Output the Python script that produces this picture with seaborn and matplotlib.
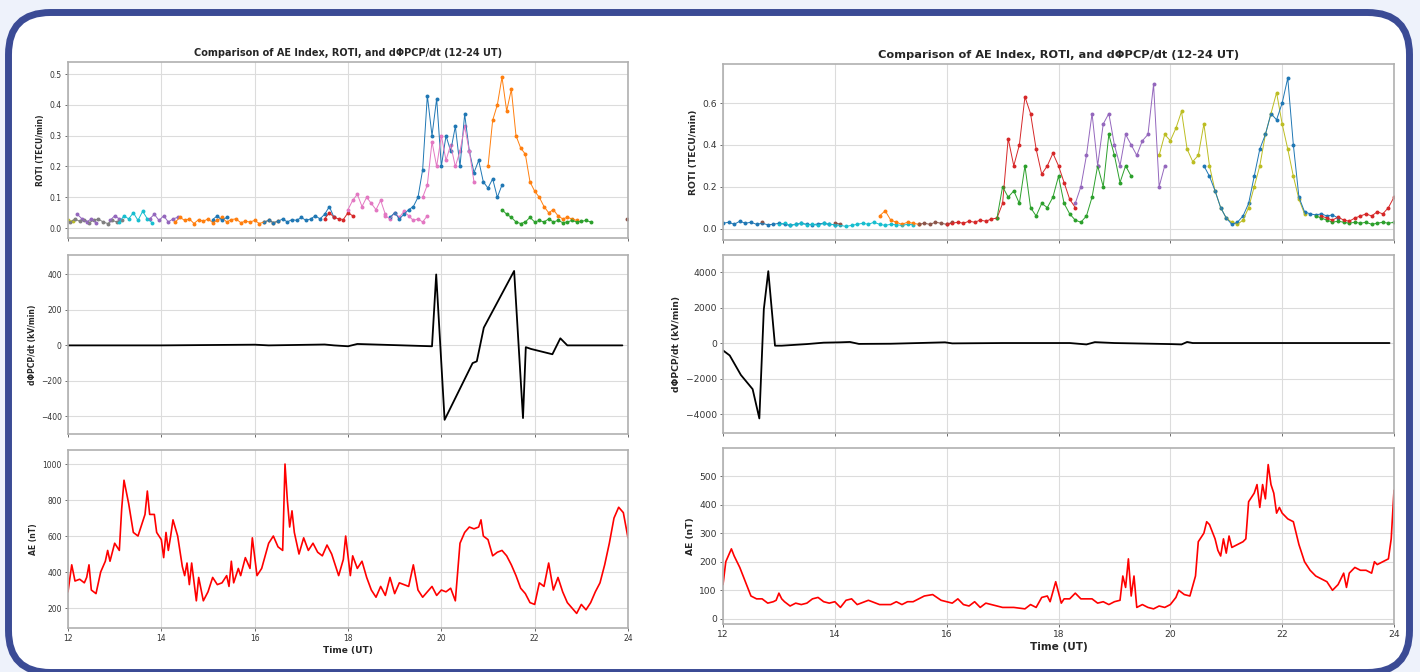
import numpy as np
import matplotlib
matplotlib.use("Agg")
import matplotlib.pyplot as plt
from matplotlib.patches import FancyBboxPatch
import seaborn as sns

TITLE = "Comparison of AE Index, ROTI, and d\u03a6PCP/dt (12-24 UT)"
XTICKS = [12, 14, 16, 18, 20, 22, 24]
STEP = 0.1  # sampling step of the ROTI series (hours)

# ---------------- left panel : ROTI (start time, values) ----------------
l_olive_t0, l_olive = 12.0, [0.026, 0.022]
l_gray_t0, l_gray = 12.05, [0.02, 0.03, 0.022, 0.028, 0.018, 0.025, 0.03, 0.02, 0.015, 0.025, 0.02, 0.028]
l_purple_a_t0, l_purple_a = 12.2, [0.045, 0.03, 0.02, 0.03, 0.018]
l_purple_b_t0, l_purple_b = 12.9, [0.025, 0.04, 0.03]
l_cyan_t0, l_cyan = 13.1, [0.02, 0.04, 0.03, 0.05, 0.025, 0.055, 0.03, 0.018]
l_purple_c_t0, l_purple_c = 13.75, [0.03, 0.045, 0.025, 0.04, 0.02, 0.03, 0.035]
l_orange_a_t0, l_orange_a = 14.3, [0.02, 0.035, 0.025, 0.03, 0.015, 0.028, 0.022, 0.03, 0.018, 0.025, 0.035, 0.02,
                                   0.028, 0.03, 0.018, 0.022, 0.02, 0.025, 0.015, 0.02, 0.025, 0.018, 0.022]
l_blue_a_t0, l_blue_a = 15.1, [0.028, 0.04, 0.025, 0.035]
l_blue_b_t0, l_blue_b = 16.2, [0.02, 0.025, 0.018, 0.022, 0.03, 0.02, 0.028, 0.025, 0.035, 0.025, 0.03, 0.04,
                               0.03, 0.045, 0.07, 0.035]
l_red_t0, l_red = 17.5, [0.03, 0.05, 0.035, 0.03, 0.028, 0.05, 0.04]
l_pink_a_t0, l_pink_a = 18.0, [0.06, 0.09, 0.11, 0.07, 0.1, 0.08, 0.06, 0.09, 0.045]
l_pink_b_t0, l_pink_b = 18.8, [0.04, 0.03, 0.05, 0.035, 0.055, 0.04, 0.025, 0.03, 0.02, 0.04]
l_blue_c_t0, l_blue_c = 18.9, [0.035, 0.05, 0.03, 0.045, 0.06, 0.07, 0.1, 0.19, 0.43, 0.3, 0.42, 0.2, 0.3, 0.25,
                               0.33, 0.2, 0.37, 0.25, 0.18, 0.22, 0.15, 0.13, 0.16, 0.1, 0.14]
l_pink_c_t0, l_pink_c = 19.6, [0.1, 0.14, 0.28, 0.2, 0.3, 0.22, 0.27, 0.2, 0.25, 0.33, 0.25, 0.15]
l_orange_b_t0, l_orange_b = 21.0, [0.2, 0.35, 0.4, 0.49, 0.38, 0.45, 0.3, 0.26, 0.24, 0.15, 0.12, 0.1, 0.07, 0.05,
                                   0.06, 0.04, 0.03, 0.035, 0.03, 0.025]
l_green_t0, l_green = 21.3, [0.06, 0.045, 0.035, 0.02, 0.015, 0.02, 0.035, 0.02, 0.025, 0.02, 0.03, 0.02, 0.025,
                             0.018, 0.02, 0.025, 0.02, 0.022, 0.025, 0.02]
l_brown_t0, l_brown = 23.98, [0.03]

# ---------------- right panel : ROTI ----------------
r_blue_a_t0, r_blue_a = 12.0, [0.025, 0.03, 0.02, 0.035, 0.025, 0.03, 0.02, 0.025, 0.018, 0.02, 0.025, 0.02,
                               0.015, 0.02, 0.025, 0.02, 0.018, 0.022, 0.025, 0.02, 0.018]
r_cyan_t0, r_cyan = 13.0, [0.02, 0.025, 0.015, 0.02, 0.025, 0.018, 0.02, 0.015, 0.025, 0.02, 0.018, 0.015, 0.01,
                           0.015, 0.02, 0.025, 0.02, 0.03, 0.02, 0.015, 0.02, 0.018, 0.015, 0.02, 0.018]
r_brown_a_t0, r_brown_a = 12.7, [0.03]
r_brown_b_t0, r_brown_b = 14.0, [0.028, 0.02]
r_brown_c_t0, r_brown_c = 15.5, [0.02, 0.025, 0.02, 0.03, 0.025, 0.02, 0.03]
r_orange_t0, r_orange = 14.8, [0.06, 0.085, 0.04, 0.03, 0.02, 0.03, 0.025, 0.02]
r_red_a_t0, r_red_a = 16.0, [0.02, 0.025, 0.03, 0.025, 0.035, 0.03, 0.04, 0.035, 0.045, 0.05, 0.12, 0.43, 0.3,
                             0.4, 0.63, 0.55, 0.38, 0.26, 0.3, 0.36, 0.3, 0.22, 0.14, 0.1]
r_green_a_t0, r_green_a = 16.9, [0.05, 0.2, 0.15, 0.18, 0.12, 0.3, 0.1, 0.06, 0.12, 0.1, 0.15, 0.25, 0.12, 0.07,
                                 0.04, 0.03, 0.06, 0.15, 0.3, 0.2, 0.45, 0.35, 0.22, 0.3, 0.25]
r_purple_t0, r_purple = 18.3, [0.12, 0.2, 0.35, 0.55, 0.3, 0.5, 0.55, 0.4, 0.3, 0.45, 0.4, 0.35, 0.42, 0.45,
                               0.69, 0.2, 0.3]
r_olive_t0, r_olive = 19.8, [0.35, 0.45, 0.42, 0.48, 0.56, 0.38, 0.32, 0.35, 0.5, 0.3, 0.18, 0.1, 0.05, 0.03,
                             0.02, 0.04, 0.1, 0.2, 0.3, 0.45, 0.55, 0.65, 0.5, 0.38, 0.25, 0.14, 0.07]
r_blue_b_t0, r_blue_b = 20.6, [0.3, 0.25, 0.18, 0.1, 0.05, 0.02, 0.03, 0.06, 0.12, 0.25, 0.38, 0.45, 0.55, 0.52,
                               0.6, 0.72, 0.4, 0.15, 0.08, 0.07, 0.065, 0.07, 0.06, 0.065, 0.05]
r_red_b_t0, r_red_b = 22.7, [0.06, 0.05, 0.04, 0.055, 0.04, 0.035, 0.05, 0.06, 0.07, 0.06, 0.08, 0.07, 0.1, 0.15]
r_green_b_t0, r_green_b = 22.6, [0.06, 0.05, 0.04, 0.03, 0.035, 0.03, 0.025, 0.03, 0.025, 0.03, 0.02, 0.025, 0.03,
                                 0.025, 0.03]

# ---------------- dPhiPCP/dt ----------------
l_dpcp_t = [12.0, 14.0, 16.0, 16.3, 17.5, 17.7, 18.0, 18.2, 19.8, 19.89, 20.07, 20.67, 20.76, 20.91, 21.56,
            21.75, 21.81, 21.92, 22.38, 22.55, 22.7, 23.88]
l_dpcp = [0, 0, 4, 0, 5, 0, -5, 8, -5, 400, -420, -100, -90, 100, 420, -410, -10, -20, -50, 40, 0, 0]

r_dpcp_t = [12.0, 12.12, 12.32, 12.53, 12.65, 12.73, 12.81, 12.93, 13.05, 13.5, 13.8, 14.1, 14.27, 14.43, 15.0,
            15.5, 15.97, 16.1, 17.0, 18.2, 18.5, 18.65, 19.0, 20.0, 20.2, 20.3, 20.4, 23.92]
r_dpcp = [-415, -700, -1800, -2600, -4250, 1900, 4050, -150, -150, -60, 20, 40, 60, -50, -40,
          0, 40, -20, 0, 0, -80, 50, 0, -60, -80, 60, 0, 0]

# ---------------- AE index ----------------
l_ae_t = [12.0, 12.08, 12.15, 12.25, 12.35, 12.4, 12.45, 12.5, 12.6, 12.7, 12.8, 12.85, 12.9, 13.0, 13.1, 13.15,
          13.2, 13.3, 13.4, 13.5, 13.6, 13.65, 13.7, 13.75, 13.85, 13.9, 14.0, 14.05, 14.1, 14.15, 14.2, 14.25,
          14.35, 14.45, 14.5, 14.55, 14.6, 14.65, 14.75, 14.8, 14.9, 15.0, 15.1, 15.2, 15.3, 15.4, 15.45, 15.5,
          15.55, 15.65, 15.7, 15.8, 15.9, 15.95, 16.05, 16.15, 16.3, 16.4, 16.5, 16.6, 16.65, 16.7, 16.75, 16.8,
          16.85, 16.95, 17.05, 17.15, 17.25, 17.35, 17.45, 17.55, 17.65, 17.75, 17.8, 17.9, 17.95, 18.05, 18.1,
          18.2, 18.3, 18.4, 18.5, 18.6, 18.7, 18.8, 18.9, 19.0, 19.1, 19.3, 19.4, 19.5, 19.6, 19.7, 19.8, 19.9,
          20.0, 20.1, 20.2, 20.3, 20.4, 20.5, 20.6, 20.7, 20.8, 20.85, 20.9, 21.0, 21.1, 21.2, 21.3, 21.4, 21.5,
          21.6, 21.7, 21.8, 21.9, 22.0, 22.1, 22.2, 22.3, 22.4, 22.5, 22.6, 22.7, 22.8, 22.9, 23.0, 23.1, 23.2,
          23.3, 23.4, 23.5, 23.6, 23.7, 23.8, 23.9, 24.0]
l_ae = [290, 440, 350, 360, 340, 370, 440, 300, 280, 400, 460, 520, 460, 560, 520, 750,
        910, 780, 620, 600, 680, 720, 850, 720, 720, 620, 580, 480, 620, 520, 600, 690,
        600, 430, 380, 450, 330, 450, 240, 370, 240, 290, 370, 330, 340, 380, 320, 460,
        340, 420, 380, 480, 420, 590, 380, 420, 560, 600, 540, 520, 1000, 800, 650, 740,
        620, 500, 590, 520, 560, 510, 490, 550, 500, 420, 380, 470, 600, 380, 490,
        420, 460, 370, 300, 260, 320, 270, 370, 280, 340, 320, 440, 300, 260, 290, 320, 270,
        300, 290, 310, 240, 560, 620, 650, 640, 650, 690, 600, 580, 490, 510, 520, 490, 440,
        380, 310, 280, 230, 220, 340, 320, 450, 300, 370, 290, 230, 200, 170, 220, 190, 230,
        290, 340, 440, 560, 700, 760, 730, 590]

r_ae_t = [12.0, 12.05, 12.15, 12.2, 12.3, 12.4, 12.5, 12.6, 12.7, 12.8, 12.9, 12.95, 13.0, 13.05, 13.1, 13.2,
          13.3, 13.4, 13.5, 13.6, 13.7, 13.8, 13.9, 14.0, 14.1, 14.2, 14.3, 14.4, 14.6, 14.8, 15.0, 15.1, 15.2,
          15.3, 15.4, 15.6, 15.75, 15.9, 16.0, 16.1, 16.2, 16.3, 16.4, 16.5, 16.6, 16.7, 16.8, 17.0, 17.2, 17.4,
          17.5, 17.6, 17.7, 17.8, 17.85, 17.95, 18.05, 18.1, 18.2, 18.3, 18.4, 18.5, 18.6, 18.7, 18.8, 18.9,
          19.0, 19.1, 19.15, 19.2, 19.25, 19.3, 19.35, 19.4, 19.5, 19.6, 19.7, 19.8, 19.9, 20.0, 20.1, 20.15,
          20.25, 20.35, 20.45, 20.5, 20.6, 20.65, 20.7, 20.8, 20.85, 20.9, 20.95, 21.0, 21.05, 21.1, 21.2, 21.3,
          21.35, 21.4, 21.5, 21.55, 21.6, 21.65, 21.7, 21.75, 21.8, 21.85, 21.9, 21.95, 22.0, 22.1, 22.2, 22.3,
          22.4, 22.5, 22.6, 22.7, 22.8, 22.9, 23.0, 23.1, 23.15, 23.2, 23.3, 23.4, 23.5, 23.6, 23.65, 23.7, 23.8,
          23.9, 23.95, 24.0]
r_ae = [120, 200, 245, 220, 180, 130, 80, 70, 70, 55, 60, 65, 90, 70, 60, 45,
        55, 50, 55, 70, 75, 60, 55, 60, 40, 65, 70, 50, 65, 50, 50, 60, 50,
        60, 60, 80, 85, 65, 60, 55, 70, 50, 45, 60, 40, 55, 50, 40, 40, 35,
        50, 40, 75, 80, 60, 130, 55, 70, 70, 90, 70, 70, 70, 55, 60, 50,
        60, 65, 150, 110, 210, 80, 150, 40, 50, 40, 35, 45, 40, 50, 75, 100,
        85, 80, 150, 270, 300, 340, 330, 280, 240, 220, 280, 230, 290, 250, 260, 270,
        280, 410, 440, 470, 390, 470, 420, 540, 470, 440, 370, 390, 370, 350, 340, 260,
        200, 170, 150, 140, 130, 100, 120, 160, 110, 160, 180, 170, 170, 160, 200, 190, 200,
        210, 280, 450]

C = {'blue': '#1f77b4', 'orange': '#ff7f0e', 'green': '#2ca02c', 'red': '#d62728', 'purple': '#9467bd',
     'brown': '#8c564b', 'pink': '#e377c2', 'gray': '#7f7f7f', 'olive': '#bcbd22', 'cyan': '#17becf'}

left_roti = [(l_olive_t0, l_olive, 'olive'), (l_gray_t0, l_gray, 'gray'), (l_purple_a_t0, l_purple_a, 'purple'),
             (l_purple_b_t0, l_purple_b, 'purple'), (l_cyan_t0, l_cyan, 'cyan'),
             (l_purple_c_t0, l_purple_c, 'purple'), (l_orange_a_t0, l_orange_a, 'orange'),
             (l_blue_a_t0, l_blue_a, 'blue'), (l_blue_b_t0, l_blue_b, 'blue'), (l_red_t0, l_red, 'red'),
             (l_pink_a_t0, l_pink_a, 'pink'), (l_pink_b_t0, l_pink_b, 'pink'), (l_blue_c_t0, l_blue_c, 'blue'),
             (l_pink_c_t0, l_pink_c, 'pink'), (l_orange_b_t0, l_orange_b, 'orange'),
             (l_green_t0, l_green, 'green'), (l_brown_t0, l_brown, 'brown')]
right_roti = [(r_blue_a_t0, r_blue_a, 'blue'), (r_cyan_t0, r_cyan, 'cyan'), (r_brown_a_t0, r_brown_a, 'brown'),
              (r_brown_b_t0, r_brown_b, 'brown'), (r_orange_t0, r_orange, 'orange'),
              (r_brown_c_t0, r_brown_c, 'brown'), (r_red_a_t0, r_red_a, 'red'),
              (r_green_a_t0, r_green_a, 'green'), (r_purple_t0, r_purple, 'purple'),
              (r_olive_t0, r_olive, 'olive'), (r_blue_b_t0, r_blue_b, 'blue'),
              (r_green_b_t0, r_green_b, 'green'), (r_red_b_t0, r_red_b, 'red')]

sns.set_style("ticks")
plt.rcParams['font.family'] = ['DejaVu Sans']

fig = plt.figure(figsize=(14.2, 6.72), dpi=100)
fig.patch.set_facecolor('#eef2fb')

# rounded card behind the two figures (its bottom edge runs off the image)
bg = fig.add_axes([0, 0, 1, 1], zorder=-5)
bg.set_xlim(0, 1420)
bg.set_ylim(672, 0)
bg.axis('off')
bg.add_patch(FancyBboxPatch((8.5, 12.5), 1401, 660, boxstyle="round,pad=0,rounding_size=42",
                            fc='white', ec='#3b4b95', lw=5))


def px_rect(x0, x1, y0, y1):
    return [x0 / 1420, 1 - y1 / 672, (x1 - x0) / 1420, (y1 - y0) / 672]


def style_ax(ax, fs, ylab, yticks, ylim, show_x):
    ax.set_xlim(12, 24)
    ax.set_ylim(*ylim)
    ax.set_xticks(XTICKS)
    ax.set_yticks(yticks)
    ax.grid(True, color='#dcdcdc', lw=0.8)
    ax.tick_params(labelsize=fs, length=2.5, width=0.6, colors='#555555', labelcolor='#333333', pad=2)
    for s in ax.spines.values():
        s.set_color('#b0b0b0')
        s.set_linewidth(1.2)
    ax.set_ylabel(ylab, fontsize=fs, fontweight='bold', labelpad=3)
    ax.set_xlabel('')
    if not show_x:
        ax.set_xticklabels([])


def draw_panel(x0, x1, rows, roti, dpcp_t, dpcp, ae_t, ae, fs, tfs, ylims, yticks):
    ax1 = fig.add_axes(px_rect(x0, x1, *rows[0]))
    ax2 = fig.add_axes(px_rect(x0, x1, *rows[1]))
    ax3 = fig.add_axes(px_rect(x0, x1, *rows[2]))

    for t0, vals, col in roti:
        t = t0 + STEP * np.arange(len(vals))
        sns.lineplot(x=t, y=vals, ax=ax1, color=C[col], lw=0.7, estimator=None, sort=False)
        sns.scatterplot(x=t, y=vals, ax=ax1, color=C[col], s=8, linewidth=0)

    sns.lineplot(x=dpcp_t, y=dpcp, ax=ax2, color='black', lw=1.3, estimator=None, sort=False)
    sns.lineplot(x=ae_t, y=ae, ax=ax3, color='#ff0000', lw=1.2, estimator=None, sort=False)

    style_ax(ax1, fs, 'ROTI (TECU/min)', yticks[0], ylims[0], False)
    style_ax(ax2, fs, 'd\u03a6PCP/dt (kV/min)', yticks[1], ylims[1], False)
    style_ax(ax3, fs, 'AE (nT)', yticks[2], ylims[2], True)
    ax1.set_title(TITLE, fontsize=tfs, fontweight='bold', pad=4)
    ax3.set_xlabel('Time (UT)', fontsize=fs + 1, fontweight='bold', labelpad=2)


draw_panel(68, 628, [(62, 238), (255, 434), (450, 628)], left_roti, l_dpcp_t, l_dpcp, l_ae_t, l_ae,
           5.5, 7.0,
           [(-0.032, 0.539), (-500, 510), (89, 1078)],
           [[0.0, 0.1, 0.2, 0.3, 0.4, 0.5], [-400, -200, 0, 200, 400], [200, 400, 600, 800, 1000]])

draw_panel(723, 1394, [(64, 240), (255, 433), (448, 624)], right_roti, r_dpcp_t, r_dpcp, r_ae_t, r_ae,
           6.6, 8.2,
           [(-0.055, 0.787), (-5070, 4960), (-18, 598)],
           [[0.0, 0.2, 0.4, 0.6], [-4000, -2000, 0, 2000, 4000], [0, 100, 200, 300, 400, 500]])

fig.savefig('out.png', dpi=100, facecolor=fig.get_facecolor())
